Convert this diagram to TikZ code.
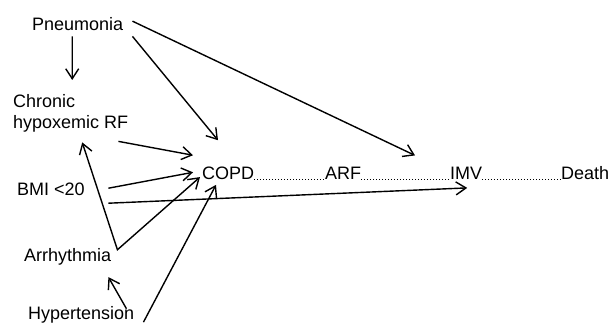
\documentclass[tikz,border=0pt]{standalone}
\usepackage{fontspec}
\setmainfont{Liberation Sans}
\usetikzlibrary{arrows.meta}

\begin{document}
\begin{tikzpicture}[x=1pt, y=-1pt, every node/.style={font=\fontsize{18}{21}\selectfont, inner sep=0pt}]
  \tikzset{cause/.style={-{Straight Barb[length=10pt,width=13pt]}, line width=1.4pt},
           twoway/.style={{Straight Barb[length=10pt,width=13pt]}-{Straight Barb[length=10pt,width=13pt]}, line width=1.4pt},
           chain/.style={dash pattern=on 1pt off 2pt, line width=1pt}}
  \useasboundingbox (0,0) rectangle (615,331);

  % risk factors
  \node[anchor=base west]              (pneu) at (32,31)   {Pneumonia};
  \node[anchor=north west, align=left] (chr)  at (13,94.5) {Chronic\\hypoxemic RF};
  \node[anchor=base west]              (bmi)  at (17,195)  {BMI <20};
  \node[anchor=base west]              (arr)  at (24,261)  {Arrhythmia};
  \node[anchor=base west]              (hyp)  at (28,319)  {Hypertension};

  % course
  \node[anchor=base west] (copd)  at (202,179.5) {COPD};
  \node[anchor=base west] (arf)   at (325,179.5) {ARF};
  \node[anchor=base west] (imv)   at (450,179.5) {IMV};
  \node[anchor=base west] (death) at (561,179.5) {Death};

  \draw[chain] (copd.base east) -- (arf.base west);
  \draw[chain] (arf.base east)  -- (imv.base west);
  \draw[chain] (imv.base east)  -- (death.base west);

  \draw[cause] ([shift={(-5.5,5)}]pneu.south) -- ([shift={(1.5,-14.5)}]chr.north);
  \draw[cause] ([shift={(9,5)}]pneu.south east) -- ([shift={(16,-26.5)}]copd.north west);
  \draw[cause] ([shift={(9,-3.4)}]pneu.east) -- ([shift={(-35,-11.5)}]imv.north west);
  \draw[cause] ([shift={(-10,8.7)}]chr.south east) -- ([shift={(-9,-11.5)}]copd.north west);
  \draw[cause] ([shift={(23.5,-0.6)}]bmi.east) -- ([shift={(-9,-1)}]copd.west);
  \draw[cause] ([shift={(23.5,14.4)}]bmi.east) -- ([shift={(1,8.2)}]imv.south);
  \draw[twoway] ([shift={(11.5,9.7)}]chr.south) -- ([shift={(6,2)}]arr.north east)
                -- ([shift={(-2,-2.8)}]copd.south west);
  \draw[cause] ([shift={(-8,3)}]hyp.north east) -- ([shift={(-3,12.2)}]arr.south east);
  \draw[cause] ([shift={(9,-0.8)}]hyp.south east) -- ([shift={(14,5)}]copd.south west);
\end{tikzpicture}
\end{document}
